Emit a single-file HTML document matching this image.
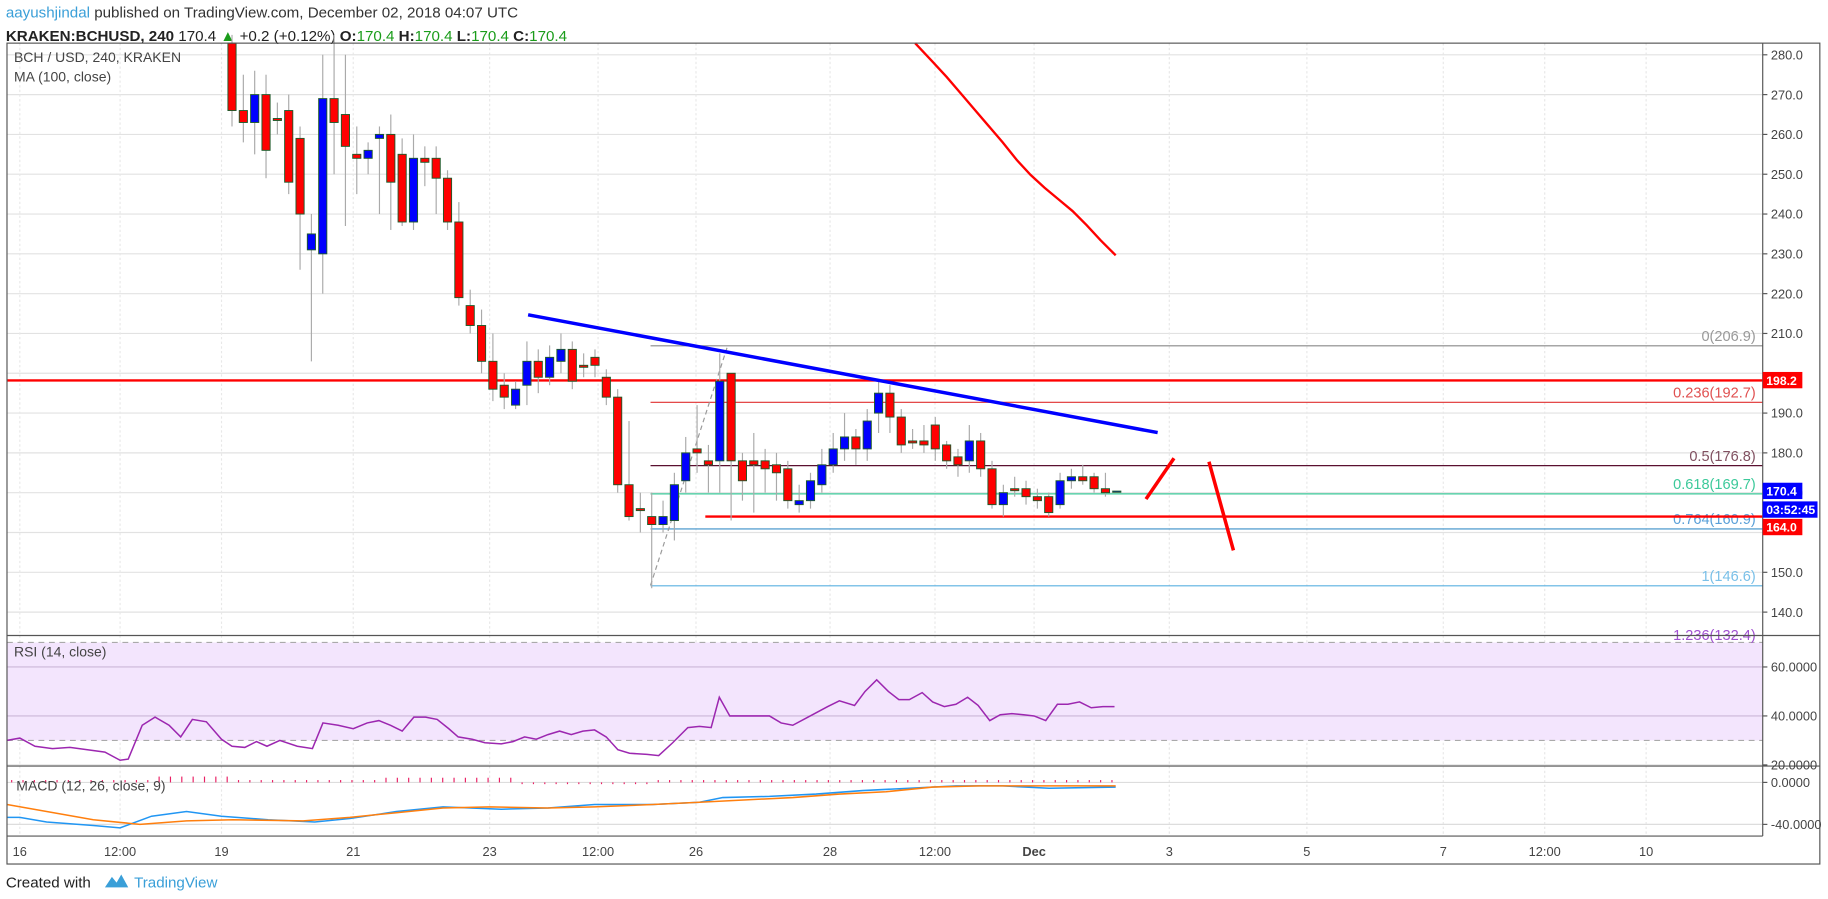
<!DOCTYPE html>
<html><head><meta charset="utf-8"><style>
html,body{margin:0;padding:0;background:#fff;}
svg{display:block;font-family:"Liberation Sans",sans-serif;}
</style></head><body>
<svg id="s" width="1828" height="899" viewBox="0 0 1568 771" preserveAspectRatio="none" xmlns="http://www.w3.org/2000/svg">
<rect width="1568" height="771" fill="#fff"/>
<text x="5" y="15" font-size="13" fill="#333"><tspan fill="#3a9fd8">aayushjindal</tspan> published on TradingView.com, December 02, 2018 04:07 UTC</text>
<text x="5" y="35" font-size="13" fill="#222"><tspan font-weight="bold">KRAKEN:BCHUSD, 240</tspan> 170.4 <tspan fill="#1a9c1a">▲</tspan> +0.2 (+0.12%) <tspan font-weight="bold">O:</tspan><tspan fill="#1a9c1a">170.4</tspan> <tspan font-weight="bold">H:</tspan><tspan fill="#1a9c1a">170.4</tspan> <tspan font-weight="bold">L:</tspan><tspan fill="#1a9c1a">170.4</tspan> <tspan font-weight="bold">C:</tspan><tspan fill="#1a9c1a">170.4</tspan></text>
<g id="grid"></g>
<rect x="6" y="551" width="1506" height="84" fill="#f3e5fd"/>
<line x1="6" y1="551" x2="1512" y2="551" stroke="#aaa" stroke-dasharray="5,4"/>
<line x1="6" y1="635" x2="1512" y2="635" stroke="#aaa" stroke-dasharray="5,4"/>
<line x1="6" y1="572" x2="1512" y2="572" stroke="#cbb8d8"/>
<line x1="6" y1="614" x2="1512" y2="614" stroke="#cbb8d8"/>
<line x1="6" y1="656" x2="1512" y2="656" stroke="#ddd"/>
<line x1="6" y1="671" x2="1512" y2="671" stroke="#ddd"/>
<line x1="6" y1="707" x2="1512" y2="707" stroke="#ddd"/>
<g id="fib"></g>
<g id="candles"></g>
<polyline points="785,37 800,53 812,66 824,80 836,94 848,108 860,122 872,137 884,150 896,161 908,171 920,181 932,193 944,206 957,219" fill="none" stroke="#f00" stroke-width="2"/>
<line x1="453" y1="270" x2="993" y2="371" stroke="#00f" stroke-width="3"/>
<line x1="983" y1="428" x2="1007" y2="393" stroke="#f00" stroke-width="3"/>
<line x1="1037" y1="396" x2="1058" y2="472" stroke="#f00" stroke-width="3"/>
<g id="ind"></g>
<rect x="6" y="37" width="1555" height="704" fill="none" stroke="#555"/>
<line x1="1512" y1="37" x2="1512" y2="717" stroke="#555"/>
<line x1="6" y1="545" x2="1561" y2="545" stroke="#555"/>
<line x1="6" y1="657" x2="1561" y2="657" stroke="#555"/>
<line x1="6" y1="717" x2="1512" y2="717" stroke="#555"/>
<text x="12" y="53" font-size="12" fill="#444">BCH / USD, 240, KRAKEN</text>
<text x="12" y="70" font-size="12" fill="#444">MA (100, close)</text>
<text x="12" y="563" font-size="12" fill="#444">RSI (14, close)</text>
<text x="14" y="678" font-size="12" fill="#444">MACD (12, 26, close, 9)</text>
<g id="axis" font-size="11" fill="#444"></g>
<text x="5" y="761" font-size="13" fill="#222">Created with</text>
<path d="M90,761 l6,-9 l4,5 l4,-7 l6,11 z" fill="#3a9fd8"/>
<text x="115" y="761" font-size="13" fill="#3a9fd8">TradingView</text>
</svg>
<script>
var NS="http://www.w3.org/2000/svg";
function el(p,t,a,txt){var e=document.createElementNS(NS,t);for(var k in a)e.setAttribute(k,a[k]);if(txt!=null)e.textContent=txt;document.getElementById(p).appendChild(e);return e;}
function py(p){return 47+(280-p)*3.414;}
for(var p=140;p<=280;p+=10){el('grid','line',{x1:6,x2:1512,y1:py(p),y2:py(p),stroke:'#e2e2e2'});el('axis','line',{x1:1512,x2:1516,y1:py(p),y2:py(p),stroke:'#555'});if(p!=200&&p!=160)el('axis','text',{x:1519,y:py(p)+4},p.toFixed(1));}
var tl=[[17,'16'],[103,'12:00'],[190,'19'],[303,'21'],[420,'23'],[513,'12:00'],[597,'26'],[712,'28'],[802,'12:00'],[887,'Dec'],[1003,'3'],[1121,'5'],[1238,'7'],[1325,'12:00'],[1412,'10']];
tl.forEach(function(t){el('grid','line',{x1:t[0],x2:t[0],y1:37,y2:717,stroke:'#e8e8e8','stroke-dasharray':'2,2'});el('axis','text',{x:t[0],y:734,'text-anchor':'middle','font-weight':t[1]=='Dec'?'bold':'normal'},t[1]);});
[[572,'60.0000'],[614,'40.0000'],[656,'20.0000'],[671,'0.0000'],[707,'-40.0000']].forEach(function(a){el('axis','text',{x:1519,y:a[0]+4},a[1]);el('axis','line',{x1:1512,x2:1516,y1:a[0],y2:a[0],stroke:'#555'});});
var fib=[[206.9,'#888','0(206.9)'],[192.7,'#e03030','0.236(192.7)'],[176.8,'#5a1030','0.5(176.8)'],[169.7,'#3cc99a','0.618(169.7)'],[160.9,'#3a8fc8','0.764(160.9)'],[146.6,'#5ab0e0','1(146.6)']];
var lc={'#888':'#999','#e03030':'#e05050','#5a1030':'#805060','#3cc99a':'#3cc99a','#3a8fc8':'#5aa0d8','#5ab0e0':'#7ac0e8'};
fib.forEach(function(f){el('fib','line',{x1:558,x2:1512,y1:py(f[0]),y2:py(f[0]),stroke:f[1]});el('fib','text',{x:1506,y:py(f[0])-4,'text-anchor':'end','font-size':'12.5',fill:lc[f[1]]},f[2]);});
el('fib','text',{x:1506,y:549,'text-anchor':'end','font-size':'12.5',fill:'#a050d0'},'1.236(132.4)');
el('fib','line',{x1:6,x2:1512,y1:py(198.2),y2:py(198.2),stroke:'#f00','stroke-width':2});
el('fib','line',{x1:605,x2:1512,y1:py(164),y2:py(164),stroke:'#f00','stroke-width':2});
el('fib','line',{x1:558,y1:502,x2:624,y2:297,stroke:'#999','stroke-dasharray':'4,3'});
function tag(y,c,t,w){el('axis','rect',{x:1512,y:y-7,width:w||34,height:14,fill:c});el('axis','text',{x:1515,y:y+4,fill:'#fff','font-weight':'bold','font-size':'10.5'},t);}
tag(326,'#f00','198.2');tag(421,'#00f','170.4');tag(437,'#00f','03:52:45',47);tag(452,'#f00','164.0');
var C=[[285,266,285,262],[266,263,275,258],[263,270,276,255],[270,256,275,249],[264,263.5,268,260],[266,248,270,245],[259,240,262,226],[231,235,240,203],[230,269,280,220],[269,263,285,250],[265,257,280,237],[255,254,262,245],[254,256,258,250],[259,260,262,240],[260,248,265,236],[255,238,259,237],[238,254,260,236],[254,253,257,247],[254,249,257,240],[249,238,251,236],[238,219,243,217],[217,212,221,210],[212,203,216,200],[203,196,210,193],[197,194,200,191],[192,196,198,191],[197,203,208,192],[203,199,206,195],[199,204,207,197],[203,206,210,200],[206,198,208,196],[202,201.5,205,199],[204,202,206,199],[199,194,201,192],[194,172,196,170],[172,164,188,163],[166,165.5,170,160],[164,162,170,146],[162,164,168,160],[163,172,175,158],[173,180,184,170],[181,180,192,175],[178,177,182,170],[178,198,205,170],[200,178,200,163],[178,173,180,168],[178,177,185,165],[178,176,181,170],[177,175,180,168],[176,168,178,166],[167,168,172,165],[168,173,175,166],[172,177,181,170],[177,181,185,175],[181,184,190,178],[184,181,186,177],[181,188,191,178],[190,195,198,185],[195,189,197,185],[189,182,191,180],[183,182.5,186,181],[183,182,187,180],[187,181,189,178],[182,178,183,176],[179,177,181,174],[178,183,187,175],[183,176,185,174],[176,167,178,166],[167,170,172,164],[171,170.5,174,169],[171,169,173,167],[169,168,171,166],[169,165,170,164],[167,173,175,166],[173,174,176,171],[174,173,177,172],[174,171,175,170],[171,170,175,169],[170.4,170.4,170.4,170.4]];
C.forEach(function(c,i){var x=199+i*9.73,o=c[0],cl=c[1],up=cl>=o;
el('candles','line',{x1:x,x2:x,y1:py(Math.min(c[2],285.5)),y2:py(c[3]),stroke:'#aaa'});
var y1=py(Math.max(o,cl)),y2=py(Math.min(o,cl));if(y1<37)y1=37;
el('candles','rect',{x:x-3.5,y:y1,width:7,height:Math.max(1,y2-y1),fill:up?'#00f':'#f00',stroke:'#1e5a2a','stroke-width':0.8});});
var R="6,635 17,633 30,640 45,642 60,641 90,645 103,652 110,651 122,622 133,615 145,622 155,632 165,617 177,619 190,634 199,640 210,641 220,636 229,640 240,635 255,640 268,642 277,620 290,622 303,625 315,620 325,618 335,622 345,627 355,615 365,615 375,617 385,625 393,632 405,634 416,637 430,638 440,636 450,632 460,634 470,630 480,627 490,630 500,627 510,626 520,632 530,643 540,646 555,647 565,648 577,637 590,624 600,623 610,624 617,598 626,614 640,614 660,614 670,620 680,622 695,614 710,606 720,601 733,605 742,593 752,583 762,593 771,600 780,600 791,594 800,602 810,606 820,604 830,598 839,605 849,618 858,613 868,612 878,613 887,614 897,618 907,604 916,604 926,602 936,607 946,606 956,606";
el('ind','polyline',{points:R,fill:'none',stroke:'#9c27b0','stroke-width':1.3});
el('ind','polyline',{points:"6,701 17,701 40,705 80,708 103,710 130,700 160,696 190,700 230,703 270,705 300,702 340,696 380,692 430,694 470,693 510,690 560,690 600,688 620,684 660,683 700,681 740,678 780,676 820,674 860,674 900,676 957,675",fill:'none',stroke:'#2196f3','stroke-width':1.3});
el('ind','polyline',{points:"6,690 40,696 80,703 120,707 160,704 200,703 260,704 300,701 340,697 380,693 420,692 470,693 510,692 560,690 600,688 640,686 680,684 720,681 760,679 800,675 840,674 880,674 957,674",fill:'none',stroke:'#ff7f0e','stroke-width':1.3});
for(var x=10;x<957;x+=9.73){var h=(x>130&&x<200)?-5:(x>330&&x<440)?-4:(x>440&&x<560)?1.5:-2;el('ind','line',{x1:x,x2:x,y1:671,y2:671+h,stroke:'#e91e63'});}
</script>
</body></html>
